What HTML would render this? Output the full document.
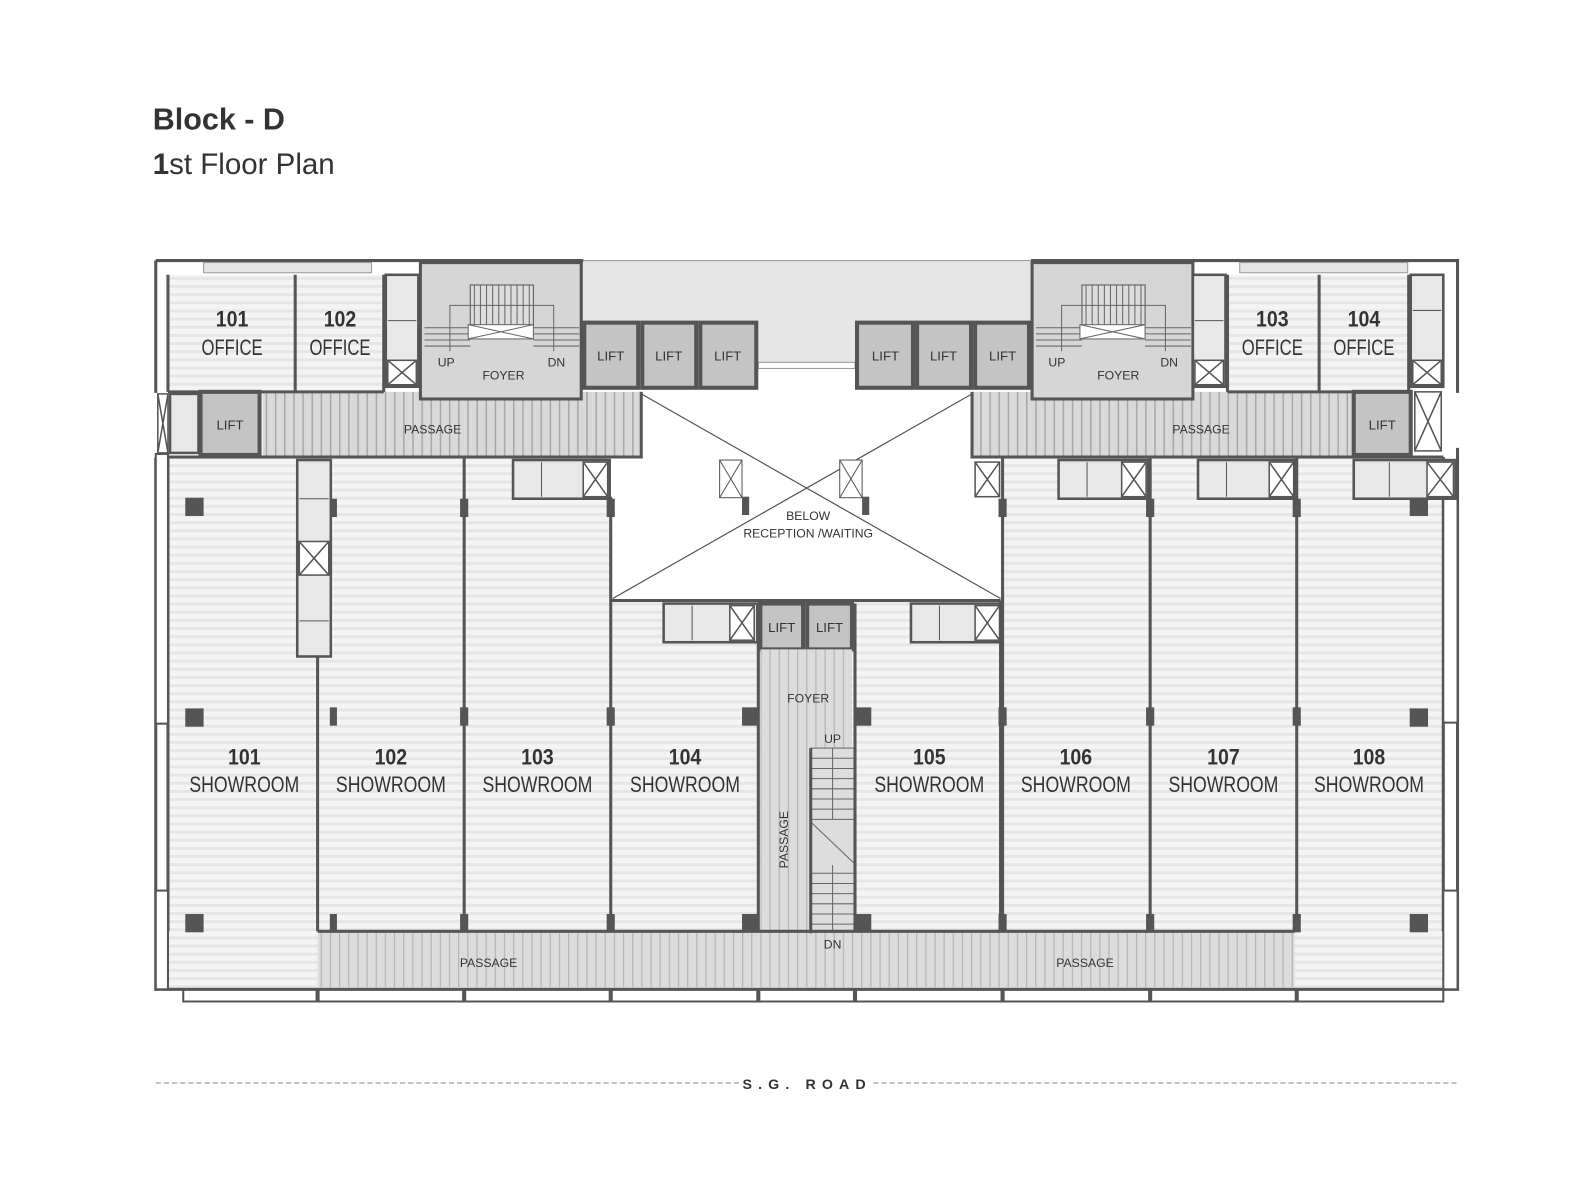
<!DOCTYPE html>
<html><head><meta charset="utf-8"><style>
html,body{margin:0;padding:0;background:#fff}
svg{display:block}
text{font-family:"Liberation Sans",sans-serif;fill:#333}
</style></head><body>
<svg width="1596" height="1200" viewBox="0 0 1568 1179" xmlns="http://www.w3.org/2000/svg">
<defs>
<pattern id="hs" width="8" height="8" patternUnits="userSpaceOnUse"><rect width="8" height="8" fill="#f4f4f4"/><rect y="0" width="8" height="3" fill="#e6e6e6"/></pattern>
<pattern id="vs" width="9" height="9" patternUnits="userSpaceOnUse"><rect width="9" height="9" fill="#d9d9d9"/><rect x="0" width="1.5" height="9" fill="#a8a8a8"/></pattern>
<pattern id="vs2" width="9" height="9" patternUnits="userSpaceOnUse"><rect width="9" height="9" fill="#dcdcdc"/><rect x="0" width="1.2" height="9" fill="#b5b5b5"/></pattern>
</defs>
<rect width="1568" height="1179" fill="#fff"/>
<text x="150" y="127" font-size="30" font-weight="bold" fill="#333">Block - D</text>
<text x="150" y="171" font-size="29" fill="#333"><tspan font-weight="bold">1</tspan>st Floor Plan</text>

<rect x="165" y="449" width="1253" height="466" fill="url(#hs)"/>
<rect x="165" y="915" width="147" height="55" fill="url(#hs)"/>
<rect x="1272" y="915" width="146" height="55" fill="url(#hs)"/>
<rect x="165" y="270" width="212" height="115" fill="url(#hs)"/>
<rect x="1206" y="270" width="180" height="115" fill="url(#hs)"/>
<rect x="572" y="256" width="441" height="102" fill="#e6e6e6" stroke="#999"/>
<rect x="745" y="356" width="95" height="6" fill="#fff" stroke="#999"/>
<rect x="600" y="385" width="383" height="205" fill="#fff"/>
<g stroke="#555" stroke-width="1.2" fill="none">
<line x1="630" y1="387" x2="983" y2="588"/><line x1="955" y1="387" x2="602" y2="588"/>
</g>
<rect x="707" y="452" width="22" height="37" fill="#fff" stroke="#555"/><line x1="707" y1="452" x2="729" y2="489" stroke="#555"/><line x1="729" y1="452" x2="707" y2="489" stroke="#555"/>
<rect x="825" y="452" width="22" height="37" fill="#fff" stroke="#555"/><line x1="825" y1="452" x2="847" y2="489" stroke="#555"/><line x1="847" y1="452" x2="825" y2="489" stroke="#555"/>
<rect x="729" y="488" width="7" height="18" fill="#555"/><rect x="847" y="488" width="7" height="18" fill="#555"/>

<rect x="258" y="385" width="372" height="64" fill="url(#vs)"/>
<rect x="955" y="385" width="375" height="64" fill="url(#vs)"/>
<rect x="413" y="258" width="158" height="134" fill="#d6d6d6" stroke="#555" stroke-width="3"/>
<rect x="462" y="280" width="62" height="40" fill="#ddd" stroke="#555"/>
<rect x="1014" y="258" width="158" height="134" fill="#d6d6d6" stroke="#555" stroke-width="3"/>
<rect x="1063" y="280" width="62" height="40" fill="#ddd" stroke="#555"/>
<g stroke="#666" stroke-width="1" fill="none">
<path d="M466 280v40M472 280v40M478 280v40M484 280v40M490 280v40M496 280v40M502 280v40M508 280v40M514 280v40M520 280v40"/>
<path d="M417 322h45M417 328h45M417 334h45M417 340h45M524 322h45M524 328h45M524 334h45M524 340h45"/>
<path d="M442 345v-45h102v45"/>
<rect x="460" y="319" width="64" height="14" fill="#fff"/><path d="M460 319l64 14M524 319l-64 14"/>
<path d="M1067 280v40M1073 280v40M1079 280v40M1085 280v40M1091 280v40M1097 280v40M1103 280v40M1109 280v40M1115 280v40M1121 280v40"/>
<path d="M1018 322h45M1018 328h45M1018 334h45M1018 340h45M1125 322h45M1125 328h45M1125 334h45M1125 340h45"/>
<path d="M1043 345v-45h102v45"/>
<rect x="1061" y="319" width="64" height="14" fill="#fff"/><path d="M1061 319l64 14M1125 319l-64 14"/>
</g>
<g font-size="12">
<text x="430" y="360">UP</text><text x="538" y="360">DN</text><text x="474" y="373">FOYER</text>
<text x="1030" y="360">UP</text><text x="1140" y="360">DN</text><text x="1078" y="373">FOYER</text>
</g>

<g fill="#c4c4c4" stroke="#555" stroke-width="4">
<rect x="574" y="317" width="53" height="64"/><rect x="631" y="317" width="53" height="64"/><rect x="688" y="317" width="55" height="64"/>
<rect x="842" y="317" width="55" height="64"/><rect x="901" y="317" width="53" height="64"/><rect x="958" y="317" width="53" height="64"/>
<rect x="197" y="385" width="58" height="62"/><rect x="1330" y="385" width="56" height="62"/>
<rect x="747" y="593" width="42" height="45"/><rect x="793" y="593" width="44" height="45"/>
</g>
<g font-size="13" text-anchor="middle">
<text x="600" y="354">LIFT</text><text x="657" y="354">LIFT</text><text x="715" y="354">LIFT</text>
<text x="870" y="354">LIFT</text><text x="927" y="354">LIFT</text><text x="985" y="354">LIFT</text>
<text x="226" y="422">LIFT</text><text x="1358" y="422">LIFT</text>
<text x="768" y="621">LIFT</text><text x="815" y="621">LIFT</text>
</g>

<rect x="747" y="638" width="90" height="332" fill="url(#vs2)"/>
<rect x="312" y="915" width="960" height="55" fill="url(#vs2)"/>
<g stroke="#666" stroke-width="1" fill="none">
<rect x="797" y="735" width="42" height="180" fill="#ddd"/>
<path d="M797 745h42M797 755h42M797 765h42M797 775h42M797 785h42M797 795h42M797 805h42M797 858h42M797 868h42M797 878h42M797 888h42M797 898h42M797 908h42"/>
<path d="M818 735v70M818 850v65M797 808l42 40"/>
</g>
<rect x="795" y="735" width="3" height="182" fill="#555"/>
<g font-size="12" text-anchor="middle">
<text x="818" y="730">UP</text>
<text x="818" y="932">DN</text>
<text x="794" y="690">FOYER</text>
<text transform="translate(774 825) rotate(-90)">PASSAGE</text>
<text x="425" y="426">PASSAGE</text>
<text x="1180" y="426">PASSAGE</text>
<text x="480" y="950">PASSAGE</text>
<text x="1066" y="950">PASSAGE</text>
</g>

<g fill="none" stroke="#555" stroke-width="3">
<path d="M153 256h420M153 256v130M1013 256h419v130M1432 440v532H153v-522"/>
<path d="M165 270v115M165 385h212M290 270v115M377 270v115M1206 270v115M1296 270v115M1384 270v115M1206 385h180"/>
<path d="M165 449h465V385M955 385v64h463M1418 449v466M600 488v427M600 590h383M983 590v325"/>
<path d="M745 593v322M840 593v322M312 490v425M456 449v466M985 449v466M1130 449v466M1274 449v466"/>
<path d="M312 915h960M165 449v466"/>
</g>
<rect x="153" y="446" width="12" height="265" fill="#fff" stroke="#555" stroke-width="2"/>
<rect x="153" y="875" width="12" height="97" fill="#fff" stroke="#555" stroke-width="2"/>
<rect x="1418" y="490" width="14" height="220" fill="#fff" stroke="#555" stroke-width="2"/>
<rect x="1418" y="875" width="14" height="97" fill="#fff" stroke="#555" stroke-width="2"/>
<rect x="200" y="258" width="165" height="10" fill="#e6e6e6" stroke="#999"/>
<rect x="1218" y="258" width="165" height="10" fill="#e6e6e6" stroke="#999"/>
<path d="M180 972v12H1418v-12" fill="none" stroke="#555" stroke-width="2"/>
<g fill="#555">
<rect x="310" y="972" width="4" height="12"/><rect x="454" y="972" width="4" height="12"/><rect x="598" y="972" width="4" height="12"/><rect x="743" y="972" width="4" height="12"/><rect x="838" y="972" width="4" height="12"/><rect x="983" y="972" width="4" height="12"/><rect x="1128" y="972" width="4" height="12"/><rect x="1272" y="972" width="4" height="12"/>
</g>

<g fill="#555">
<rect x="182" y="489" width="18" height="18"/><rect x="182" y="696" width="18" height="18"/><rect x="182" y="898" width="18" height="18"/>
<rect x="1385" y="489" width="18" height="18"/><rect x="1385" y="696" width="18" height="18"/><rect x="1385" y="898" width="18" height="18"/>
<rect x="324" y="490" width="7" height="18"/><rect x="324" y="695" width="7" height="18"/><rect x="324" y="898" width="7" height="18"/>
<rect x="452" y="490" width="8" height="18"/><rect x="452" y="695" width="8" height="18"/><rect x="452" y="898" width="8" height="18"/>
<rect x="596" y="490" width="8" height="18"/><rect x="596" y="695" width="8" height="18"/><rect x="596" y="898" width="8" height="18"/>
<rect x="729" y="695" width="16" height="18"/><rect x="729" y="898" width="16" height="18"/>
<rect x="840" y="695" width="16" height="18"/><rect x="840" y="898" width="16" height="18"/>
<rect x="981" y="490" width="8" height="18"/><rect x="981" y="695" width="8" height="18"/><rect x="981" y="898" width="8" height="18"/>
<rect x="1126" y="490" width="8" height="18"/><rect x="1126" y="695" width="8" height="18"/><rect x="1126" y="898" width="8" height="18"/>
<rect x="1270" y="490" width="8" height="18"/><rect x="1270" y="695" width="8" height="18"/><rect x="1270" y="898" width="8" height="18"/>
</g>

<g fill="#e8e8e8" stroke="#555" stroke-width="2.5">
<rect x="504" y="452" width="95" height="38"/><rect x="652" y="593" width="92" height="38"/><rect x="895" y="593" width="88" height="38"/>
<rect x="1040" y="452" width="88" height="38"/><rect x="1177" y="452" width="95" height="38"/><rect x="1330" y="452" width="100" height="38"/>
<rect x="292" y="452" width="33" height="193"/>
<rect x="379" y="270" width="32" height="110"/><rect x="1172" y="270" width="32" height="110"/><rect x="1386" y="270" width="32" height="110"/>
<rect x="167" y="387" width="28" height="58"/>
</g>
<g stroke="#555" stroke-width="1.5" fill="#fff">
<rect x="573" y="454" width="24" height="34"/><path d="M573 454l24 34M597 454l-24 34"/>
<rect x="717" y="595" width="24" height="34"/><path d="M717 595l24 34M741 595l-24 34"/>
<rect x="958" y="595" width="24" height="34"/><path d="M958 595l24 34M982 595l-24 34"/>
<rect x="958" y="454" width="24" height="34"/><path d="M958 454l24 34M982 454l-24 34"/>
<rect x="1102" y="454" width="24" height="34"/><path d="M1102 454l24 34M1126 454l-24 34"/>
<rect x="1247" y="454" width="24" height="34"/><path d="M1247 454l24 34M1271 454l-24 34"/>
<rect x="1402" y="454" width="26" height="34"/><path d="M1402 454l26 34M1428 454l-26 34"/>
<rect x="294" y="532" width="29" height="33"/><path d="M294 532l29 33M323 532l-29 33"/>
<rect x="381" y="354" width="28" height="24"/><path d="M381 354l28 24M409 354l-28 24"/>
<rect x="1174" y="354" width="28" height="24"/><path d="M1174 354l28 24M1202 354l-28 24"/>
<rect x="1388" y="354" width="28" height="24"/><path d="M1388 354l28 24M1416 354l-28 24"/>
<rect x="1390" y="385" width="26" height="58"/><path d="M1390 385l26 58M1416 385l-26 58"/>
<rect x="155" y="387" width="10" height="58"/><path d="M155 387l10 58M165 387l-10 58"/>
</g>
<g stroke="#555" stroke-width="1" fill="none"><path d="M532 454v34M680 595v34M923 595v34M1068 454v34M1205 454v34M1365 454v34M294 490h29M294 610h29M381 315h28M1174 315h28M1388 305h28"/></g>

<g text-anchor="middle" font-size="22">
<text x="228" y="321" font-weight="bold" textLength="32" lengthAdjust="spacingAndGlyphs">101</text><text x="228" y="349" textLength="60" lengthAdjust="spacingAndGlyphs">OFFICE</text>
<text x="334" y="321" font-weight="bold" textLength="32" lengthAdjust="spacingAndGlyphs">102</text><text x="334" y="349" textLength="60" lengthAdjust="spacingAndGlyphs">OFFICE</text>
<text x="1250" y="321" font-weight="bold" textLength="32" lengthAdjust="spacingAndGlyphs">103</text><text x="1250" y="349" textLength="60" lengthAdjust="spacingAndGlyphs">OFFICE</text>
<text x="1340" y="321" font-weight="bold" textLength="32" lengthAdjust="spacingAndGlyphs">104</text><text x="1340" y="349" textLength="60" lengthAdjust="spacingAndGlyphs">OFFICE</text>
<text x="240" y="751" font-weight="bold" textLength="32" lengthAdjust="spacingAndGlyphs">101</text><text x="240" y="778" textLength="108" lengthAdjust="spacingAndGlyphs">SHOWROOM</text>
<text x="384" y="751" font-weight="bold" textLength="32" lengthAdjust="spacingAndGlyphs">102</text><text x="384" y="778" textLength="108" lengthAdjust="spacingAndGlyphs">SHOWROOM</text>
<text x="528" y="751" font-weight="bold" textLength="32" lengthAdjust="spacingAndGlyphs">103</text><text x="528" y="778" textLength="108" lengthAdjust="spacingAndGlyphs">SHOWROOM</text>
<text x="673" y="751" font-weight="bold" textLength="32" lengthAdjust="spacingAndGlyphs">104</text><text x="673" y="778" textLength="108" lengthAdjust="spacingAndGlyphs">SHOWROOM</text>
<text x="913" y="751" font-weight="bold" textLength="32" lengthAdjust="spacingAndGlyphs">105</text><text x="913" y="778" textLength="108" lengthAdjust="spacingAndGlyphs">SHOWROOM</text>
<text x="1057" y="751" font-weight="bold" textLength="32" lengthAdjust="spacingAndGlyphs">106</text><text x="1057" y="778" textLength="108" lengthAdjust="spacingAndGlyphs">SHOWROOM</text>
<text x="1202" y="751" font-weight="bold" textLength="32" lengthAdjust="spacingAndGlyphs">107</text><text x="1202" y="778" textLength="108" lengthAdjust="spacingAndGlyphs">SHOWROOM</text>
<text x="1345" y="751" font-weight="bold" textLength="32" lengthAdjust="spacingAndGlyphs">108</text><text x="1345" y="778" textLength="108" lengthAdjust="spacingAndGlyphs">SHOWROOM</text>
</g>
<g text-anchor="middle" font-size="12">
<text x="794" y="511">BELOW</text><text x="794" y="528">RECEPTION /WAITING</text>
</g>

<line x1="153" y1="1064" x2="728" y2="1064" stroke="#888" stroke-dasharray="5,3"/>
<line x1="858" y1="1064" x2="1432" y2="1064" stroke="#888" stroke-dasharray="5,3"/>
<text x="793" y="1070" font-size="14" font-weight="bold" text-anchor="middle" letter-spacing="6" fill="#444">S.G. ROAD</text>
</svg>
</body></html>
